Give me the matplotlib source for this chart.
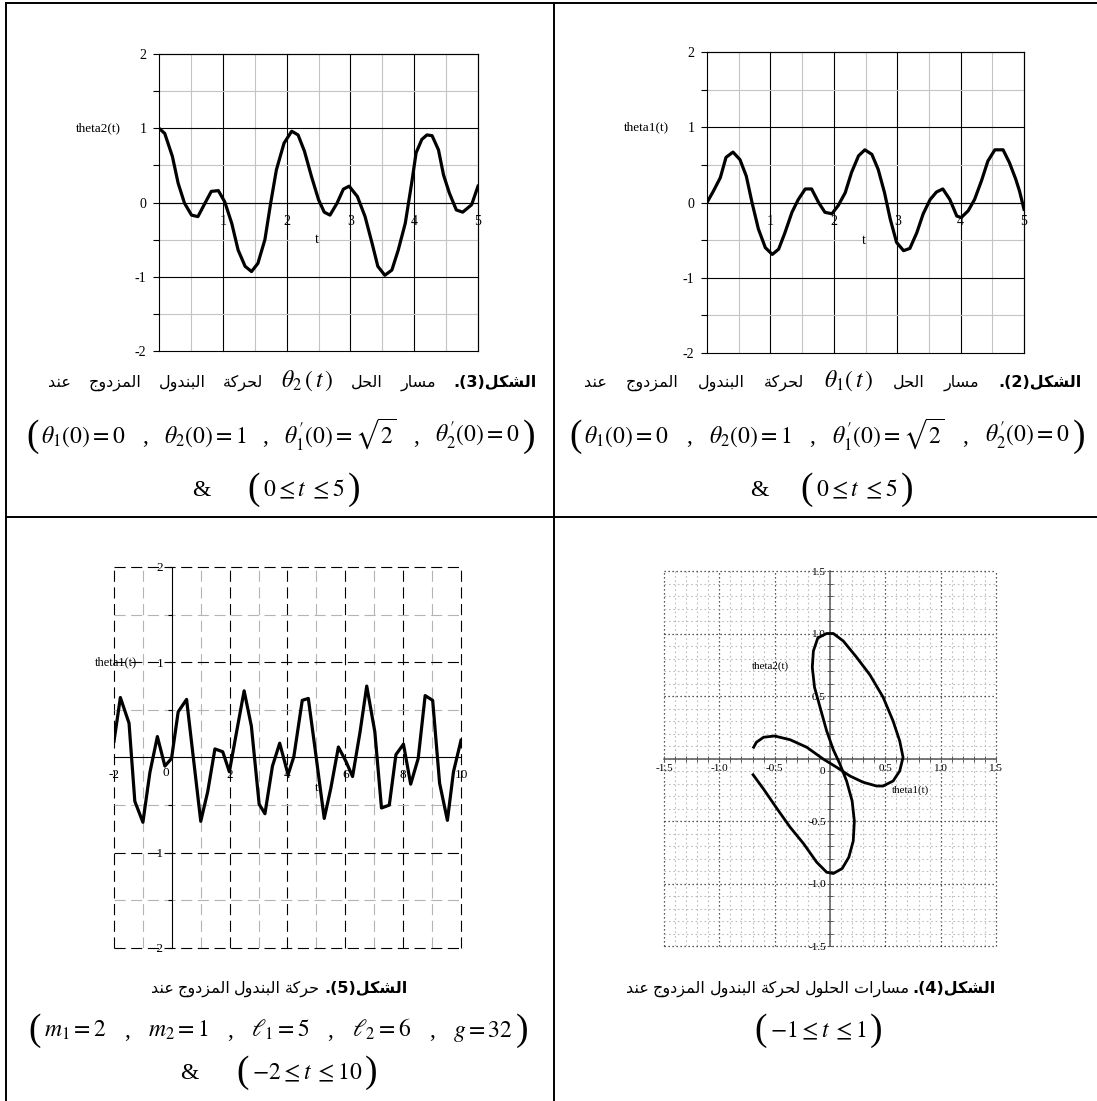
import matplotlib
matplotlib.use("Agg")
import matplotlib.pyplot as plt
from matplotlib.lines import Line2D
from matplotlib.ticker import FixedLocator, FixedFormatter, NullFormatter

plt.rcParams['font.family'] = ['Liberation Serif', 'DejaVu Sans']
plt.rcParams['mathtext.fontset'] = 'stix'
plt.rcParams['axes.unicode_minus'] = False

# ---------------- data ----------------
# Fig (3): theta2(t), 0 <= t <= 5
theta2_t = [0.00, 0.09, 0.21, 0.30, 0.40, 0.51, 0.61, 0.72, 0.82, 0.93,
            1.03, 1.14, 1.24, 1.35, 1.45, 1.55, 1.66, 1.75, 1.84, 1.96,
            2.08, 2.18, 2.28, 2.39, 2.50, 2.59, 2.68, 2.79, 2.89, 2.98,
            3.11, 3.23, 3.34, 3.43, 3.54, 3.65, 3.75, 3.86, 3.96, 4.03,
            4.12, 4.20, 4.28, 4.38, 4.46, 4.55, 4.66, 4.76, 4.90, 5.00]
theta2_v = [1.00, 0.93, 0.62, 0.26, -0.01, -0.17, -0.19, -0.01, 0.15, 0.16,
            0.01, -0.28, -0.64, -0.86, -0.93, -0.82, -0.50, -0.01, 0.44, 0.80,
            0.96, 0.91, 0.69, 0.35, 0.04, -0.13, -0.17, -0.01, 0.18, 0.22,
            0.08, -0.19, -0.55, -0.86, -0.98, -0.91, -0.64, -0.28, 0.26, 0.67,
            0.85, 0.91, 0.90, 0.71, 0.37, 0.13, -0.10, -0.13, -0.03, 0.22]

# Fig (2): theta1(t), 0 <= t <= 5
theta1_t = [0.00, 0.10, 0.21, 0.30, 0.41, 0.52, 0.62, 0.71, 0.81, 0.92,
            1.03, 1.13, 1.23, 1.34, 1.44, 1.55, 1.65, 1.76, 1.86, 1.97,
            2.07, 2.18, 2.28, 2.39, 2.49, 2.60, 2.70, 2.80, 2.89, 2.99,
            3.10, 3.20, 3.31, 3.41, 3.52, 3.62, 3.72, 3.83, 3.94, 4.01,
            4.12, 4.22, 4.33, 4.43, 4.54, 4.67, 4.77, 4.87, 4.93, 5.00]
theta1_v = [0.00, 0.15, 0.33, 0.60, 0.67, 0.57, 0.35, 0.00, -0.35, -0.60,
            -0.69, -0.62, -0.40, -0.13, 0.04, 0.18, 0.18, 0.00, -0.13, -0.15,
            -0.04, 0.13, 0.40, 0.62, 0.70, 0.64, 0.44, 0.13, -0.22, -0.53,
            -0.64, -0.61, -0.40, -0.15, 0.04, 0.14, 0.18, 0.04, -0.18, -0.20,
            -0.11, 0.04, 0.29, 0.55, 0.70, 0.70, 0.53, 0.31, 0.15, -0.09]

# Fig (5): theta1(t), -2 <= t <= 10
long_t = [-2.00, -1.78, -1.48, -1.28, -1.00, -0.76, -0.50, -0.24, -0.01, 0.22,
          0.51, 0.72, 1.00, 1.24, 1.49, 1.76, 1.99, 2.24, 2.50, 2.75,
          3.02, 3.22, 3.48, 3.73, 4.02, 4.22, 4.51, 4.72, 4.98, 5.27,
          5.50, 5.76, 6.02, 6.25, 6.51, 6.74, 7.02, 7.25, 7.52, 7.75,
          8.01, 8.26, 8.52, 8.76, 9.02, 9.26, 9.53, 9.74, 10.00]
long_v = [0.17, 0.63, 0.36, -0.46, -0.68, -0.16, 0.22, -0.09, -0.01, 0.48,
          0.61, 0.06, -0.67, -0.36, 0.09, 0.06, -0.15, 0.27, 0.70, 0.33,
          -0.49, -0.59, -0.09, 0.15, -0.18, 0.01, 0.60, 0.62, 0.03, -0.64,
          -0.32, 0.11, -0.04, -0.20, 0.27, 0.75, 0.27, -0.53, -0.50, 0.03,
          0.14, -0.28, -0.01, 0.65, 0.60, -0.27, -0.66, -0.15, 0.18]

# Fig (4): (theta1, theta2) for -1 <= t <= 1
phase_x = [-0.695, -0.60, -0.48, -0.36, -0.24, -0.12, -0.03, 0.03, 0.11, 0.17,
           0.21, 0.22, 0.20, 0.15, 0.09, 0.03, -0.03, -0.09, -0.14, -0.16,
           -0.15, -0.11, -0.03, 0.03, 0.12, 0.24, 0.36, 0.48, 0.57, 0.63,
           0.66, 0.63, 0.57, 0.48, 0.42, 0.30, 0.18, 0.06, -0.06, -0.21,
           -0.36, -0.50, -0.60, -0.665, -0.69]
phase_y = [-0.13, -0.245, -0.40, -0.55, -0.68, -0.83, -0.91, -0.92, -0.88, -0.79,
           -0.66, -0.50, -0.34, -0.18, -0.045, 0.07, 0.22, 0.41, 0.57, 0.73,
           0.86, 0.965, 1.00, 1.00, 0.94, 0.81, 0.67, 0.49, 0.30, 0.14,
           0.01, -0.10, -0.18, -0.22, -0.22, -0.19, -0.14, -0.07, -0.005, 0.09,
           0.15, 0.18, 0.17, 0.13, 0.09]

# tick values / labels
t5_ticks = [1, 2, 3, 4, 5]
t5_labels = ['1', '2', '3', '4', '5']
y2_ticks = [-2, -1, 0, 1, 2]
y2_labels = ['-2', '-1', '0', '1', '2']
t10_ticks = [-2, 2, 4, 6, 8, 10]
t10_labels = ['-2', '2', '4', '6', '8', '10']
y5_ticks = [-2, -1, 1, 2]
y5_labels = ['-2', '-1', '1', '2']
ph_ticks = [-1.5, -1.0, -0.5, 0.5, 1.0, 1.5]
ph_labels = ['-1.5', '-1.0', '-0.5', '0.5', '1.0', '1.5']

# captions (logical order)
cap_word = 'الشكل'
cap_tl = ('3', 'مسار الحل', r'$\theta_2\,(\,t\,)$', 'لحركة البندول المزدوج عند')
cap_tr = ('2', 'مسار الحل', r'$\theta_1(\,t\,)$', 'لحركة البندول المزدوج عند')
cap_bl = ('5', 'حركة البندول المزدوج عند')
cap_br = ('4', 'مسارات الحلول لحركة البندول المزدوج عند')
eq_init = [r'$\theta_1(0)=0$', ',', r'$\theta_2(0)=1$', ',',
           r'$\theta^{\prime}_1(0)=\sqrt{2}$', ',', r'$\theta^{\prime}_2(0)=0$']
eq_params = [r'$m_1=2$', ',', r'$m_2=1$', ',', r'$\ell_1=5$', ',',
             r'$\ell_2=6$', ',', r'$g=32$']
eq_range5 = [r'$0\leq t\;\leq 5$']
eq_range10 = [r'$-2\leq t\;\leq 10$']
eq_range1 = [r'$-1\leq t\;\leq 1$']

# ---------------- Arabic shaping (presentation forms) ----------------
AR_FORMS = {
    '\u0627': (0xFE8D, 0xFE8E, None, None),
    '\u0628': (0xFE8F, 0xFE90, 0xFE91, 0xFE92),
    '\u0629': (0xFE93, 0xFE94, None, None),
    '\u062A': (0xFE95, 0xFE96, 0xFE97, 0xFE98),
    '\u062C': (0xFE9D, 0xFE9E, 0xFE9F, 0xFEA0),
    '\u062D': (0xFEA1, 0xFEA2, 0xFEA3, 0xFEA4),
    '\u062F': (0xFEA9, 0xFEAA, None, None),
    '\u0631': (0xFEAD, 0xFEAE, None, None),
    '\u0632': (0xFEAF, 0xFEB0, None, None),
    '\u0633': (0xFEB1, 0xFEB2, 0xFEB3, 0xFEB4),
    '\u0634': (0xFEB5, 0xFEB6, 0xFEB7, 0xFEB8),
    '\u0639': (0xFEC9, 0xFECA, 0xFECB, 0xFECC),
    '\u0643': (0xFED9, 0xFEDA, 0xFEDB, 0xFEDC),
    '\u0644': (0xFEDD, 0xFEDE, 0xFEDF, 0xFEE0),
    '\u0645': (0xFEE1, 0xFEE2, 0xFEE3, 0xFEE4),
    '\u0646': (0xFEE5, 0xFEE6, 0xFEE7, 0xFEE8),
    '\u0648': (0xFEED, 0xFEEE, None, None),
}


def shape(s):
    out = []
    n = len(s)
    for i, ch in enumerate(s):
        f = AR_FORMS.get(ch)
        if f is None:
            out.append(ch)
            continue
        prev = s[i - 1] if i > 0 else None
        nxt = s[i + 1] if i + 1 < n else None
        jp = prev in AR_FORMS and AR_FORMS[prev][2] is not None
        jn = f[2] is not None and nxt in AR_FORMS
        if jp and jn:
            c = f[3]
        elif jp:
            c = f[1]
        elif jn:
            c = f[2]
        else:
            c = f[0]
        out.append(chr(c))
    return ''.join(out)


def vis(s):
    return shape(s)[::-1]


def vis_words(s):
    return [vis(w) for w in reversed(s.split())]


# ---------------- figure ----------------
W, H = 1097, 1101
fig = plt.figure(figsize=(W / 100, H / 100), dpi=100)


def fx(x):
    return x / W


def fy(y):
    return 1 - y / H


def axes_px(l, r, t, b):
    return fig.add_axes([l / W, 1 - b / H, (r - l) / W, (b - t) / H])


# table borders
for (x0, y0, x1, y1) in [(6, 3, 1097, 3), (6, 517, 1097, 517),
                         (6, 3, 6, 1101), (554, 3, 554, 1101)]:
    fig.add_artist(Line2D([fx(x0), fx(x1)], [fy(y0), fy(y1)],
                          transform=fig.transFigure, color='black', lw=1.4))

GREY = '#c4c4c4'


def solid_panel(ax, t, v, ylab):
    ax.set_xlim(0, 5)
    ax.set_ylim(-2, 2)
    ax.spines['left'].set_position(('data', 0))
    ax.spines['bottom'].set_position(('data', 0))
    for s in ax.spines.values():
        s.set_linewidth(0.8)
        s.set_color('black')
    ax.xaxis.set_major_locator(FixedLocator(t5_ticks))
    ax.xaxis.set_major_formatter(FixedFormatter(t5_labels))
    ax.xaxis.set_minor_locator(FixedLocator([0.5, 1.5, 2.5, 3.5, 4.5]))
    ax.yaxis.set_major_locator(FixedLocator(y2_ticks))
    ax.yaxis.set_major_formatter(FixedFormatter(y2_labels))
    ax.yaxis.set_minor_locator(FixedLocator([-1.5, -0.5, 0.5, 1.5]))
    ax.yaxis.set_minor_formatter(NullFormatter())
    ax.grid(which='major', color='black', lw=0.8)
    ax.grid(which='minor', color=GREY, lw=0.8)
    ax.set_axisbelow(True)
    ax.tick_params(axis='x', which='both', length=0, pad=9, labelsize=10)
    ax.tick_params(axis='y', which='both', length=4, width=0.8,
                   direction='out', pad=5, labelsize=10)
    for gl in ax.get_xgridlines() + ax.get_ygridlines():
        gl.set_clip_on(False)
    ax.plot(t, v, color='black', lw=2.3, zorder=3, solid_joinstyle='round')
    ax.text(-0.95, 1.0, ylab, fontsize=9.5, ha='center', va='center')
    ax.text(2.47, -0.5, 't', fontsize=10, ha='center', va='center')


ax1 = axes_px(159, 478, 54, 351)
solid_panel(ax1, theta2_t, theta2_v, 'theta2(t)')
ax2 = axes_px(707, 1024, 52, 353)
solid_panel(ax2, theta1_t, theta1_v, 'theta1(t)')

# ---- Fig (5): dashed grid ----
ax5 = axes_px(114, 461, 567, 948)
ax5.set_xlim(-2, 10)
ax5.set_ylim(-2, 2)
ax5.spines['left'].set_position(('data', 0))
ax5.spines['bottom'].set_position(('data', 0))
ax5.spines['top'].set_visible(False)
ax5.spines['right'].set_visible(False)
for s in ('left', 'bottom'):
    ax5.spines[s].set_linewidth(0.8)
ax5.xaxis.set_major_locator(FixedLocator(t10_ticks))
ax5.xaxis.set_major_formatter(FixedFormatter(t10_labels))
ax5.xaxis.set_minor_locator(FixedLocator([-1, 1, 3, 5, 7, 9]))
ax5.yaxis.set_major_locator(FixedLocator(y5_ticks))
ax5.yaxis.set_major_formatter(FixedFormatter(y5_labels))
ax5.yaxis.set_minor_locator(FixedLocator([-1.5, -0.5, 0.5, 1.5]))
ax5.yaxis.set_minor_formatter(NullFormatter())
ax5.grid(which='major', color='black', lw=0.8, linestyle=(0, (10, 5)))
ax5.grid(which='minor', color='#b4b4b4', lw=0.8, linestyle=(0, (10, 5)))
ax5.set_axisbelow(True)
ax5.tick_params(axis='x', which='both', length=0, pad=8, labelsize=9.5)
ax5.tick_params(axis='y', which='both', length=3, width=0.8,
                direction='out', pad=3, labelsize=9.5)
for gl in ax5.get_xgridlines() + ax5.get_ygridlines():
    gl.set_clip_on(False)
ax5.plot(long_t, long_v, color='black', lw=2.3, zorder=3)
ax5.text(-0.22, -0.165, '0', fontsize=9.5, ha='center', va='center')
ax5.text(-1.92, 1.0, 'theta1(t)', fontsize=9, ha='center', va='center')
ax5.text(5.0, -0.32, 't', fontsize=9.5, ha='center', va='center')

# ---- Fig (4): dotted grid, phase curve ----
ax4 = axes_px(664, 996, 571, 946)
ax4.set_xlim(-1.5, 1.5)
ax4.set_ylim(-1.5, 1.5)
ax4.spines['left'].set_position(('data', 0))
ax4.spines['bottom'].set_position(('data', 0))
ax4.spines['top'].set_visible(False)
ax4.spines['right'].set_visible(False)
for s in ('left', 'bottom'):
    ax4.spines[s].set_linewidth(1.1)
    ax4.spines[s].set_color('#555555')
minor_ph = [round(-1.5 + 0.1 * i, 1) for i in range(31)]
for ax_ in (ax4.xaxis, ax4.yaxis):
    ax_.set_major_locator(FixedLocator(ph_ticks))
    ax_.set_major_formatter(FixedFormatter(ph_labels))
    ax_.set_minor_locator(FixedLocator(minor_ph))
    ax_.set_minor_formatter(NullFormatter())
ax4.grid(which='minor', color='#bdbdbd', lw=0.8, linestyle=(0, (1.5, 2.5)))
ax4.grid(which='major', color='#222222', lw=0.9, linestyle=(0, (1, 2.2)))
ax4.set_axisbelow(True)
ax4.tick_params(axis='both', which='both', direction='inout', length=4,
                width=0.7, color='#555555', labelsize=8)
ax4.tick_params(axis='x', pad=2)
ax4.tick_params(axis='y', pad=1)
for gl in ax4.get_xgridlines() + ax4.get_ygridlines():
    gl.set_clip_on(False)
ax4.plot(phase_x, phase_y, color='black', lw=2.0, zorder=3,
         solid_joinstyle='round')
ax4.text(-0.07, -0.1, '0', fontsize=8, ha='center', va='center')
ax4.text(-0.54, 0.74, 'theta2(t)', fontsize=8, ha='center', va='center')
ax4.text(0.73, -0.25, 'theta1(t)', fontsize=8, ha='center', va='center')

# ---------------- captions ----------------
renderer = fig.canvas.get_renderer()
AR = dict(family='DejaVu Sans', fontsize=11.5)
ARB = dict(family='DejaVu Sans', fontsize=11.5, fontweight='bold')
MATH = dict(fontsize=17)
PLAIN = dict(family='Liberation Serif', fontsize=17)
PAREN = dict(family='Liberation Serif', fontsize=27)


def make(s, kw, y, va):
    return fig.text(0, fy(y), s, ha='left', va=va, **kw)


def width(tx):
    return tx.get_window_extent(renderer).width


def justify(pieces, y, x0, x1, va='baseline'):
    texts = [make(s, kw, y, va) for s, kw in pieces]
    ws = [width(t) for t in texts]
    if len(ws) == 1:
        texts[0].set_x(fx((x0 + x1 - ws[0]) / 2))
        return
    gap = (x1 - x0 - sum(ws)) / (len(ws) - 1)
    x = x0
    for t, w in zip(texts, ws):
        t.set_x(fx(x))
        x += w + gap


def centered(pieces, y, cx, gap=4, va='baseline'):
    texts = [make(s, kw, y, va) for s, kw in pieces]
    ws = [width(t) for t in texts]
    x = cx - (sum(ws) + gap * (len(ws) - 1)) / 2
    for t, w in zip(texts, ws):
        t.set_x(fx(x))
        x += w + gap


def paren_group(parts, ycenter, x0, x1, pad=3):
    lp = make('(', PAREN, ycenter, 'center')
    rp = make(')', PAREN, ycenter, 'center')
    wl, wr = width(lp), width(rp)
    lp.set_x(fx(x0))
    rp.set_x(fx(x1 - wr))
    pieces = [(p, MATH if p.startswith('$') else PLAIN) for p in parts]
    justify(pieces, ycenter + 6, x0 + wl + pad, x1 - wr - pad)


def paren_center(parts, ycenter, cx, pad=3):
    lp = make('(', PAREN, ycenter, 'center')
    rp = make(')', PAREN, ycenter, 'center')
    inner = make(parts[0], MATH, ycenter + 6, 'baseline')
    wl, wr, wi = width(lp), width(rp), width(inner)
    total = wl + wr + wi + 2 * pad
    x = cx - total / 2
    lp.set_x(fx(x))
    inner.set_x(fx(x + wl + pad))
    rp.set_x(fx(x + wl + pad + wi + pad))


def bold_head(num):
    return '.(' + num + ')' + vis(cap_word)


def cap_with_math(cap, x0, x1, ybase):
    num, part1, math, part2 = cap
    pieces = [(w, AR) for w in vis_words(part2)] + [(math, MATH)]
    pieces += [(w, AR) for w in vis_words(part1)] + [(bold_head(num), ARB)]
    justify(pieces, ybase, x0, x1)


def cap_plain(cap, cx, ybase):
    num, part = cap
    pieces = [(w, AR) for w in vis_words(part)] + [(bold_head(num), ARB)]
    centered(pieces, ybase, cx)


# top row captions
cap_with_math(cap_tl, 48, 537, 387)
cap_with_math(cap_tr, 584, 1082, 387)
paren_group(eq_init, 437, 26, 535)
paren_group(eq_init, 437, 569, 1085)
for (xa, cx) in [(192, 304), (750, 857)]:
    make('&', PLAIN, 496, 'baseline').set_x(fx(xa))
    paren_center(eq_range5, 490, cx)

# bottom row captions
cap_plain(cap_bl, 279, 993)
cap_plain(cap_br, 811, 993)
paren_group(eq_params, 1031, 28, 528)
make('&', PLAIN, 1079, 'baseline').set_x(fx(180))
paren_center(eq_range10, 1073, 307)
paren_center(eq_range1, 1031, 818)

fig.savefig('out.png', dpi=100)
